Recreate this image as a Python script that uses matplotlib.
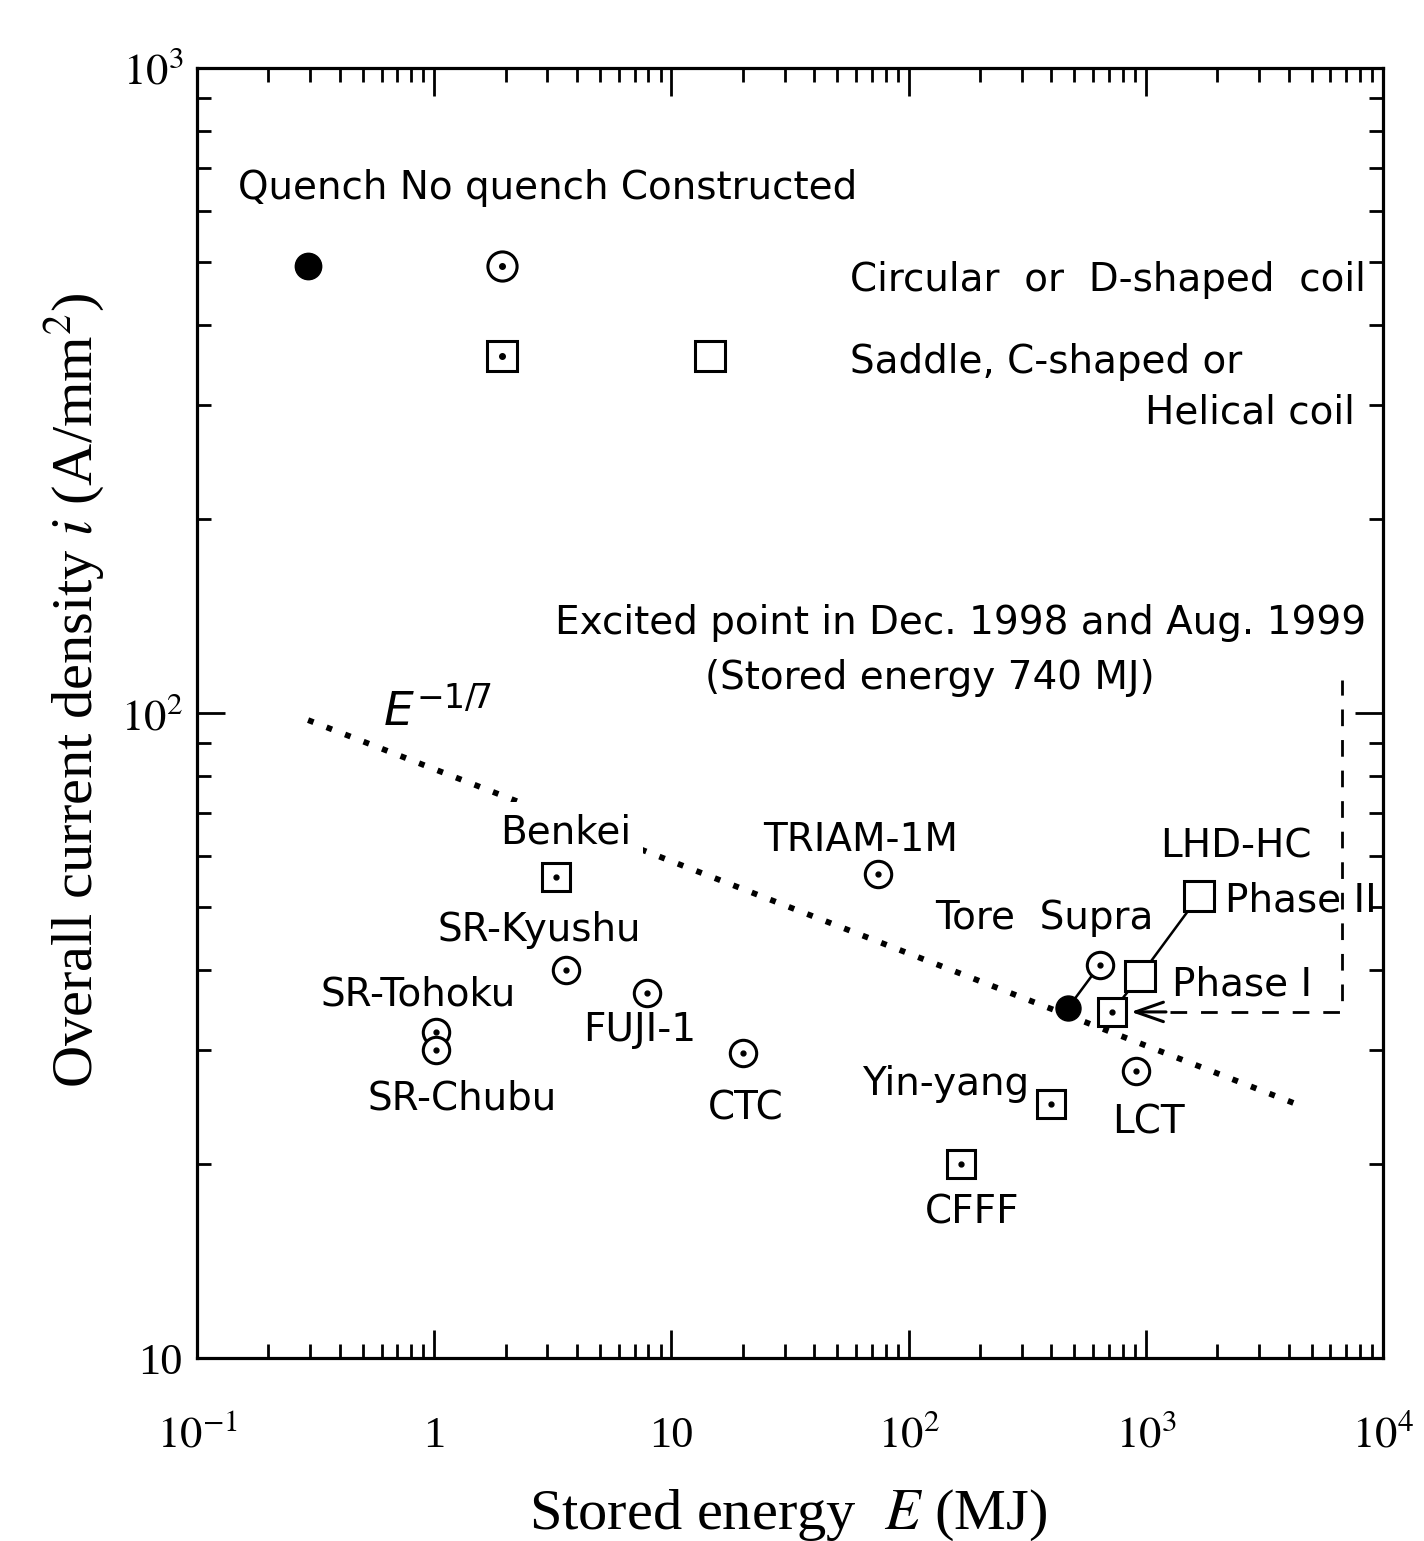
import matplotlib
matplotlib.use('Agg')
import matplotlib.pyplot as plt
from matplotlib.ticker import FixedLocator, FixedFormatter, LogLocator, NullFormatter

# ---------------- data ----------------
# No quench, circular or D-shaped coils (circle with dot)
circle_names = ['TRIAM-1M', 'Tore  Supra', 'SR-Kyushu', 'FUJI-1', 'SR-Tohoku', 'SR-Chubu', 'CTC', 'LCT']
circle_E = [74.3, 641, 3.59, 7.89, 1.02, 1.02, 20.0, 910]
circle_i = [56.3, 40.7, 40.0, 36.8, 32.0, 30.0, 29.7, 27.9]

# No quench, saddle / C-shaped / helical coils (square with dot)
square_names = ['Benkei', 'Yin-yang', 'CFFF', 'LHD excited']
square_E = [3.26, 398, 166, 720]
square_i = [55.7, 24.8, 20.0, 34.4]

# Constructed (open squares): LHD-HC Phase I and Phase II
constructed_names = ['Phase I', 'Phase II']
constructed_E = [946, 1675]
constructed_i = [39.1, 52.0]

# Quench (filled circle)
quench_E = [470]
quench_i = [34.9]

# Tore Supra link (quench point -> Tore Supra)
tore_link_E = [470, 641]
tore_link_i = [34.9, 40.7]

# LHD path: excited point -> Phase I -> Phase II
lhd_path_E = [720, 946, 1675]
lhd_path_i = [34.4, 39.1, 52.0]

# E^-1/7 scaling line (end points)
scaling_E = [0.294, 4258]
scaling_i = [97.5, 24.8]

# Key markers in the header
key_filled_E, key_filled_i = [0.294], [493]
key_circle_E, key_circle_i = [1.93], [493]
key_sqdot_E, key_sqdot_i = [1.93], [358]
key_open_E, key_open_i = [14.6], [358]

x_ticks = [0.1, 1, 10, 100, 1000, 10000]
x_tick_labels = ['$10^{-1}$', '1', '10', '$10^{2}$', '$10^{3}$', '$10^{4}$']
y_ticks = [10, 100, 1000]
y_tick_labels = ['10', '$10^{2}$', '$10^{3}$']

# ---------------- figure ----------------
W, H = 1424, 1541
L, R, B, T = 197, 1383, 1358, 68
plt.rcParams['mathtext.fontset'] = 'stix'
fig = plt.figure(figsize=(W / 100, H / 100), dpi=100)
ax = fig.add_axes([L / W, 1 - B / H, (R - L) / W, (B - T) / H])
ax.set_xscale('log')
ax.set_yscale('log')
ax.set_xlim(0.1, 1e4)
ax.set_ylim(10, 1000)

for s in ax.spines.values():
    s.set_linewidth(2.3)

ax.xaxis.set_major_locator(FixedLocator(x_ticks))
ax.xaxis.set_major_formatter(FixedFormatter(x_tick_labels))
ax.yaxis.set_major_locator(FixedLocator(y_ticks))
ax.yaxis.set_major_formatter(FixedFormatter(y_tick_labels))
ax.xaxis.set_minor_locator(LogLocator(base=10, subs=range(2, 10), numticks=20))
ax.yaxis.set_minor_locator(LogLocator(base=10, subs=range(2, 10), numticks=20))
ax.xaxis.set_minor_formatter(NullFormatter())
ax.yaxis.set_minor_formatter(NullFormatter())
ax.tick_params(which='both', direction='in', top=True, right=True, width=2.0)
ax.tick_params(which='major', length=20)
ax.tick_params(which='minor', length=10)
ax.tick_params(axis='x', which='major', pad=64, labelsize=32)
ax.tick_params(axis='y', which='major', pad=10, labelsize=32)
for lab in ax.get_xticklabels() + ax.get_yticklabels():
    lab.set_family('Liberation Serif')
for tk in ax.xaxis.get_major_ticks():
    tk.label1.set_va('baseline')


def pxE(x):
    return 10 ** (-1 + (x - L) / ((R - L) / 5))


def pxI(y):
    return 10 ** (3 - (y - T) / ((B - T) / 2))


# scaling line
ax.plot(scaling_E, scaling_i, color='black', lw=4.2, linestyle=(0, (1.0, 2.4)),
        dash_capstyle='butt', zorder=2)

# connecting lines
ax.plot(tore_link_E, tore_link_i, color='black', lw=1.8, zorder=3)
ax.plot(lhd_path_E, lhd_path_i, color='black', lw=1.8, zorder=3)

ms_c = 19
ms_s = 20
mew = 2.2
# circles with dot
ax.plot(circle_E, circle_i, linestyle='none', marker='o', ms=ms_c, mfc='white', mec='black', mew=mew, zorder=5)
ax.plot(circle_E, circle_i, linestyle='none', marker='o', ms=3.5, mfc='black', mec='black', zorder=6)
# squares with dot
ax.plot(square_E, square_i, linestyle='none', marker='s', ms=ms_s, mfc='white', mec='black', mew=mew, zorder=5)
ax.plot(square_E, square_i, linestyle='none', marker='o', ms=3.5, mfc='black', mec='black', zorder=6)
# constructed squares
ax.plot(constructed_E, constructed_i, linestyle='none', marker='s', ms=21, mfc='white', mec='black', mew=mew, zorder=5)
# quench
ax.plot(quench_E, quench_i, linestyle='none', marker='o', ms=18, mfc='black', mec='black', zorder=5)

# header keys
ax.plot(key_filled_E, key_filled_i, linestyle='none', marker='o', ms=19, mfc='black', mec='black', zorder=5)
ax.plot(key_circle_E, key_circle_i, linestyle='none', marker='o', ms=21, mfc='white', mec='black', mew=mew, zorder=5)
ax.plot(key_circle_E, key_circle_i, linestyle='none', marker='o', ms=4, mfc='black', mec='black', zorder=6)
ax.plot(key_sqdot_E, key_sqdot_i, linestyle='none', marker='s', ms=21, mfc='white', mec='black', mew=mew, zorder=5)
ax.plot(key_sqdot_E, key_sqdot_i, linestyle='none', marker='o', ms=4, mfc='black', mec='black', zorder=6)
ax.plot(key_open_E, key_open_i, linestyle='none', marker='s', ms=21, mfc='white', mec='black', mew=mew, zorder=5)

# dashed callout for excited point
ex_E, ex_i = square_E[3], square_i[3]
ax.plot([pxE(1170), pxE(1342), pxE(1342)], [ex_i, ex_i, pxI(680)], color='black', lw=2.0,
        linestyle=(0, (6, 5)), zorder=3)
ax.annotate('', xy=(pxE(1131), ex_i), xytext=(pxE(1166), ex_i),
            arrowprops=dict(arrowstyle='->,head_length=2.0,head_width=0.7', lw=2.2,
                            color='black', mutation_scale=10, shrinkA=0, shrinkB=0),
            zorder=4)

# ---------------- text ----------------
FS = 28


def put(x, y, s, ha='left', **kw):
    ax.text(pxE(x), pxI(y), s, ha=ha, va='center', fontsize=kw.pop('fontsize', FS),
            family='DejaVu Sans', zorder=kw.pop('zorder', 4), **kw)


put(238, 188, 'Quench No quench Constructed')
put(850, 280, 'Circular  or  D-shaped  coil')
put(850, 362, 'Saddle, C-shaped or')
put(1355, 413, 'Helical coil', ha='right')
put(555, 623, 'Excited point in Dec. 1998 and Aug. 1999')
put(705, 678, '(Stored energy 740 MJ)')
ax.text(pxE(383), pxI(712), r'$E^{-1/7}$', ha='left', va='center', fontsize=34,
        math_fontfamily='dejavusans', zorder=4)

put(500, 833, 'Benkei', bbox=dict(boxstyle='square,pad=0.3', fc='white', ec='none'), zorder=4)
put(763, 840, 'TRIAM-1M')
put(1160, 847, 'LHD-HC')
put(1225, 900, 'Phase II')
put(935, 918, 'Tore  Supra')
put(437, 930, 'SR-Kyushu')
put(1172, 984, 'Phase I')
put(320, 995, 'SR-Tohoku')
put(583, 1030, 'FUJI-1')
put(862, 1084, 'Yin-yang')
put(367, 1098, 'SR-Chubu')
put(708, 1108, 'CTC')
put(1112, 1123, 'LCT')
put(925, 1212, 'CFFF')

fig.text(788 / W, 1 - 1515 / H, r'Stored energy  $E$ (MJ)', ha='center', va='center',
         fontsize=42, family='Liberation Serif')
fig.text(75 / W, 1 - 690 / H, r'Overall current density $i$ (A/mm$^2$)', ha='center', va='center',
         rotation=90, fontsize=42, family='Liberation Serif')

fig.savefig('out.png', dpi=100)
